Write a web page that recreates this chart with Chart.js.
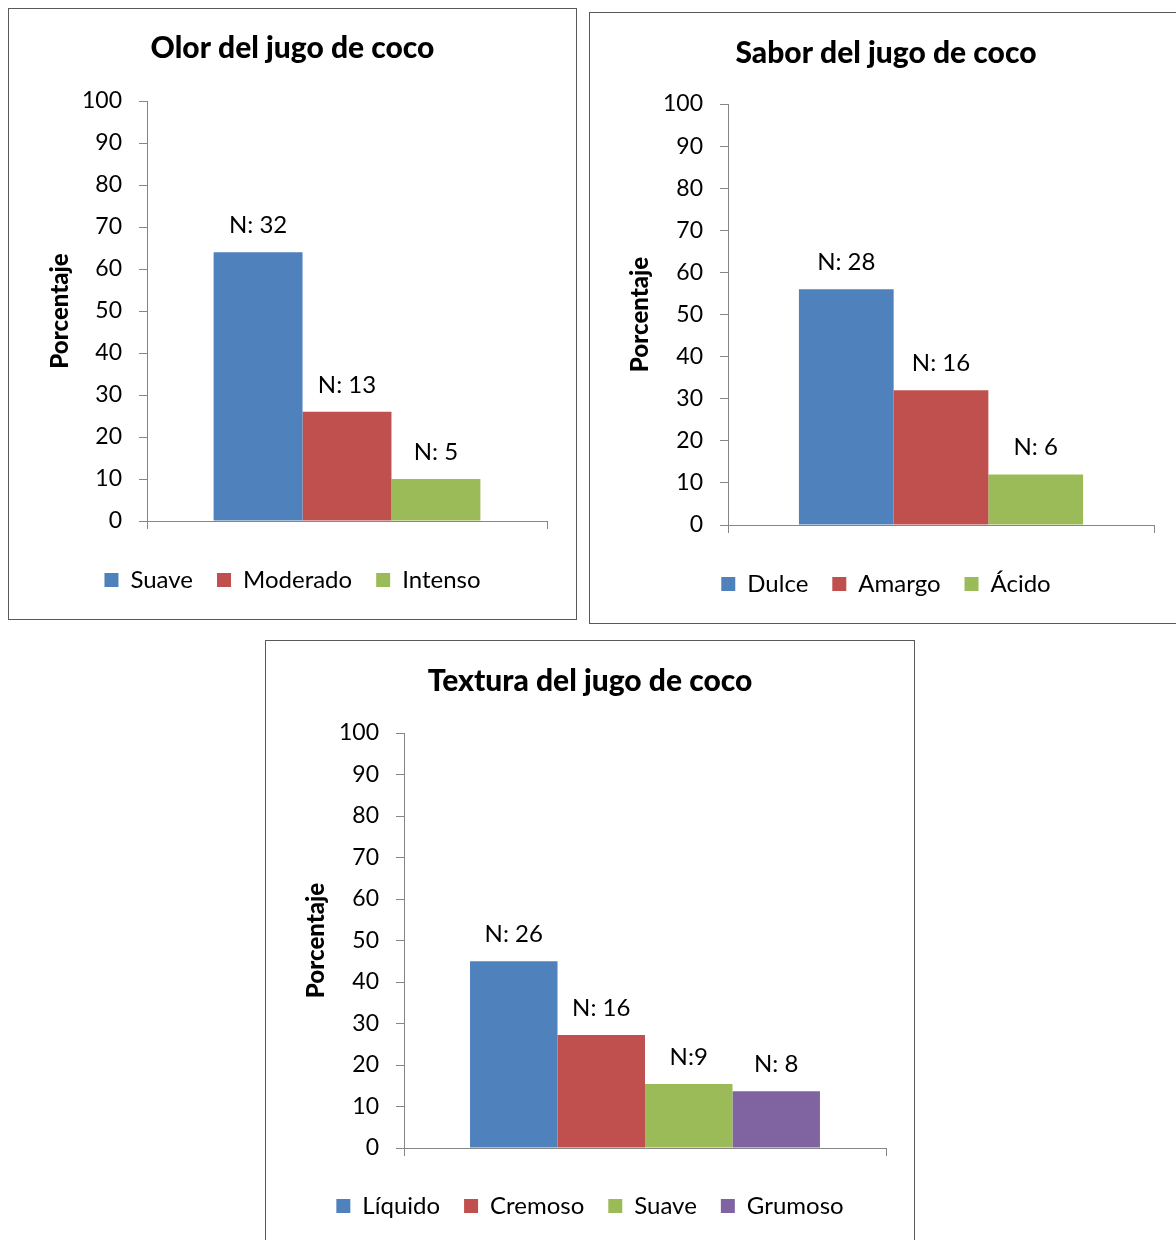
<!DOCTYPE html>
<html lang="es">
<head>
<meta charset="UTF-8">
<title>Jugo de coco</title>
<script src="https://cdn.jsdelivr.net/npm/chart.js"></script>
<style>
    body {
        margin: 0;
        background: #fff;
        width: 1176px;
        height: 1240px;
        position: relative;
        overflow: hidden;
        font-family: Lato, sans-serif;
    }
    .panel {
        position: absolute;
        border: 1px solid #595959;
        background: #fff;
    }
    .panel canvas { display: block; }
    #p1 { left: 8px; top: 8px; }
    #p2 { left: 589px; top: 12px; }
    #p3 { left: 265px; top: 640px; }
</style>
</head>
<body>

<div class="panel" id="p1"><canvas id="olor" width="567" height="610"></canvas></div>
<div class="panel" id="p2"><canvas id="sabor" width="592" height="610"></canvas></div>
<div class="panel" id="p3"><canvas id="textura" width="648" height="610"></canvas></div>

<script>
// Datos
const olorCategorias = ['Suave', 'Moderado', 'Intenso'];
const olorValores = [64, 26, 10];
const olorN = ['N: 32', 'N: 13', 'N: 5'];

const saborCategorias = ['Dulce', 'Amargo', 'Ácido'];
const saborValores = [56, 32, 12];
const saborN = ['N: 28', 'N: 16', 'N: 6'];

const texturaCategorias = ['Líquido', 'Cremoso', 'Suave', 'Grumoso'];
const texturaValores = [45, 27.2, 15.4, 13.7];
const texturaN = ['N: 26', 'N: 16', 'N:9', 'N: 8'];

const yTicks = [0, 10, 20, 30, 40, 50, 60, 70, 80, 90, 100];

const colores = ['#4F81BD', '#C0504D', '#9BBB59', '#8064A2'];
const eje = '#868686';

// etiquetas "N: .." encima de cada barra
const etiquetasPlugin = {
    id: 'etiquetasN',
    afterDatasetsDraw(chart) {
        const ctx = chart.ctx;
        ctx.save();
        ctx.font = '24px Lato';
        ctx.fillStyle = '#000';
        ctx.textAlign = 'center';
        ctx.textBaseline = 'middle';
        chart.data.datasets.forEach((ds, i) => {
            chart.getDatasetMeta(i).data.forEach(bar => {
                ctx.fillText(ds.n, bar.x, bar.y - 27);
            });
        });
        ctx.restore();
    }
};

function grafico(id, titulo, categorias, valores, etiquetas, caja) {
    const H = 610;
    const fuenteLeyenda = 24;
    const legendH = fuenteLeyenda + 24 + 10;
    const padB = H - caja.leyendaY - 10 - fuenteLeyenda / 2;
    const xH = H - padB - legendH - caja.abajo;

    new Chart(document.getElementById(id), {
        type: 'bar',
        data: {
            labels: [''],
            datasets: categorias.map((c, i) => ({
                label: c,
                data: [valores[i]],
                backgroundColor: colores[i],
                n: etiquetas[i]
            }))
        },
        options: {
            responsive: false,
            animation: false,
            layout: { padding: { left: caja.lado, right: caja.lado, top: 0, bottom: padB } },
            datasets: { bar: { barPercentage: 1, categoryPercentage: caja.grupo } },
            plugins: {
                title: {
                    display: true,
                    text: titulo,
                    color: '#000',
                    font: { family: 'Lato', size: 30, weight: 900 },
                    padding: { top: caja.tituloY - 18, bottom: caja.arriba - caja.tituloY - 18 }
                },
                legend: {
                    position: 'bottom',
                    labels: {
                        boxWidth: 14,
                        boxHeight: 14,
                        padding: 24,
                        color: '#000',
                        font: { family: 'Lato', size: fuenteLeyenda }
                    }
                },
                tooltip: { enabled: false }
            },
            scales: {
                x: {
                    grid: { offset: true, drawOnChartArea: false, tickLength: 8, color: eje },
                    border: { color: eje },
                    ticks: { display: false },
                    afterFit: s => { s.height = xH; }
                },
                y: {
                    min: 0,
                    max: 100,
                    afterBuildTicks: s => { s.ticks = yTicks.map(v => ({ value: v })); },
                    ticks: { padding: 17, color: '#000', font: { family: 'Lato', size: 23 } },
                    grid: { drawOnChartArea: false, tickLength: 8, color: eje },
                    border: { color: eje },
                    title: {
                        display: true,
                        text: 'Porcentaje',
                        color: '#000',
                        font: { family: 'Lato', size: 24, weight: 900 },
                        padding: { top: caja.ejeTitulo - caja.lado - 14.4, bottom: 0 }
                    },
                    afterFit: s => { s.width = 138 - caja.lado; }
                }
            }
        },
        plugins: [etiquetasPlugin]
    });
}

grafico('olor', 'Olor del jugo de coco', olorCategorias, olorValores, olorN,
    { lado: 29, grupo: 0.667, tituloY: 39, arriba: 92, abajo: 512, leyendaY: 571, ejeTitulo: 51 });
grafico('sabor', 'Sabor del jugo de coco', saborCategorias, saborValores, saborN,
    { lado: 28, grupo: 0.667, tituloY: 40, arriba: 91, abajo: 512, leyendaY: 571, ejeTitulo: 50 });
grafico('textura', 'Textura del jugo de coco', texturaCategorias, texturaValores, texturaN,
    { lado: 28, grupo: 0.726, tituloY: 40, arriba: 92, abajo: 507, leyendaY: 565, ejeTitulo: 50 });
</script>
</body>
</html>
